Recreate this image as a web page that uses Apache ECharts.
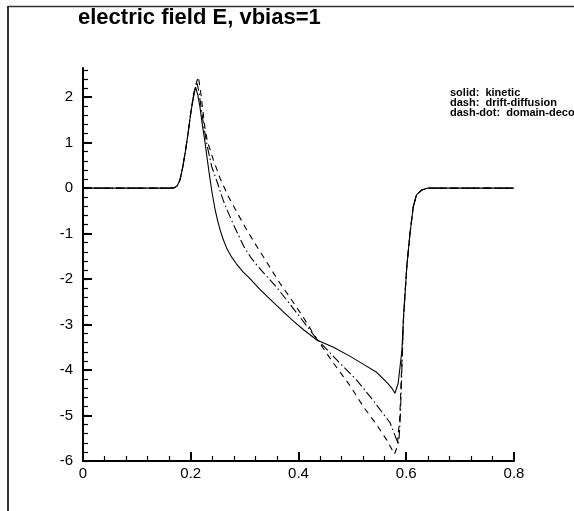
<!DOCTYPE html>
<html>
<head>
<meta charset="utf-8">
<script src="https://cdn.jsdelivr.net/npm/echarts@6/dist/echarts.min.js"></script>
<style>
html,body{margin:0;padding:0;background:#fff;}
#chart{width:574px;height:511px;}
</style>
</head>
<body>
<div id="chart"></div>
<script>
// ---- data ----
const titleText = 'electric field E, vbias=1';
const legendLines = ['solid:  kinetic', 'dash:  drift-diffusion', 'dash-dot:  domain-decomposition'];

const xTicks = [0, 0.2, 0.4, 0.6, 0.8];
const yTicks = [-6, -5, -4, -3, -2, -1, 0, 1, 2];
const yMinorTicks = [-6,-5.8,-5.6,-5.4,-5.2,-5,-4.8,-4.6,-4.4,-4.2,-4,-3.8,-3.6,-3.4,-3.2,-3,-2.8,-2.6,-2.4,-2.2,-2,-1.8,-1.6,-1.4,-1.2,-1,-0.8,-0.6,-0.4,-0.2,0,0.2,0.4,0.6,0.8,1,1.2,1.4,1.6,1.8,2,2.2,2.4,2.6];

const kineticX = [0, 0.16, 0.17, 0.175, 0.18, 0.185, 0.19, 0.195, 0.2, 0.205, 0.209, 0.213, 0.217, 0.222, 0.226, 0.231, 0.236, 0.24, 0.245, 0.25, 0.255, 0.26, 0.267, 0.275, 0.285, 0.297, 0.31, 0.328, 0.347, 0.37, 0.39, 0.41, 0.434, 0.465, 0.496, 0.52, 0.545, 0.564, 0.574, 0.579, 0.585, 0.592, 0.595, 0.601, 0.607, 0.613, 0.619, 0.629, 0.64, 0.8];
const kineticY = [0, 0, 0.01, 0.05, 0.18, 0.45, 0.8, 1.2, 1.65, 2.0, 2.22, 2.05, 1.79, 1.35, 1.05, 0.6, 0.18, -0.13, -0.46, -0.72, -0.94, -1.12, -1.33, -1.5, -1.67, -1.84, -1.99, -2.22, -2.44, -2.7, -2.92, -3.12, -3.34, -3.5, -3.7, -3.87, -4.05, -4.27, -4.41, -4.51, -4.29, -3.56, -2.83, -1.73, -0.99, -0.41, -0.15, -0.04, 0, 0];

const driftX = [0, 0.16, 0.17, 0.175, 0.18, 0.185, 0.19, 0.195, 0.2, 0.205, 0.21, 0.214, 0.218, 0.222, 0.226, 0.231, 0.242, 0.255, 0.27, 0.287, 0.304, 0.322, 0.341, 0.366, 0.384, 0.41, 0.434, 0.465, 0.496, 0.52, 0.545, 0.564, 0.578, 0.583, 0.588, 0.595, 0.601, 0.607, 0.613, 0.619, 0.629, 0.64, 0.8];
const driftY = [0, 0, 0.01, 0.05, 0.18, 0.45, 0.8, 1.2, 1.65, 2.05, 2.3, 2.45, 2.15, 1.75, 1.35, 1.02, 0.62, 0.2, -0.19, -0.56, -0.92, -1.27, -1.63, -2.1, -2.4, -2.86, -3.32, -3.85, -4.35, -4.8, -5.2, -5.54, -5.85, -5.7, -5.03, -2.83, -1.73, -0.99, -0.41, -0.15, -0.04, 0, 0];

const domainX = [0, 0.16, 0.17, 0.175, 0.18, 0.185, 0.19, 0.195, 0.2, 0.205, 0.209, 0.212, 0.216, 0.22, 0.225, 0.231, 0.239, 0.25, 0.26, 0.27, 0.28, 0.29, 0.298, 0.31, 0.325, 0.341, 0.36, 0.378, 0.403, 0.434, 0.477, 0.508, 0.538, 0.57, 0.585, 0.587, 0.589, 0.595, 0.601, 0.607, 0.613, 0.619, 0.629, 0.64, 0.8];
const domainY = [0, 0, 0.01, 0.05, 0.18, 0.45, 0.8, 1.2, 1.65, 2.02, 2.25, 2.3, 2.05, 1.7, 1.3, 0.9, 0.47, 0.1, -0.26, -0.55, -0.82, -1.07, -1.27, -1.5, -1.73, -1.94, -2.19, -2.46, -2.84, -3.32, -3.85, -4.22, -4.66, -5.16, -5.62, -5.45, -5.03, -2.83, -1.73, -0.99, -0.41, -0.15, -0.04, 0, 0];

function pairs(xs, ys){ return xs.map((x,i)=>[x, ys[i]]); }

const chart = echarts.init(document.getElementById('chart'), null, {renderer:'canvas'});
const FONT = '"Liberation Sans", Arial, sans-serif';
const GRID = {left:83, right:60, top:68, bottom:50};

chart.setOption({
  animation:false,
  backgroundColor:'#fff',
  grid: GRID,
  xAxis: {
    type:'value', min:0, max:0.8, interval:0.2,
    axisLine:{show:true, onZero:false, lineStyle:{color:'#000', width:2}},
    axisTick:{show:true, inside:true, length:9, lineStyle:{color:'#000', width:2}},
    minorTick:{show:true, splitNumber:5, length:5, lineStyle:{color:'#000', width:1.2}},
    splitLine:{show:false},
    axisLabel:{color:'#000', fontFamily:FONT, fontSize:15, margin:5,
      customValues: xTicks, formatter: v => String(v)}
  },
  yAxis: [{
    type:'value', min:-6, max:2.64,
    axisLine:{show:true, onZero:false, lineStyle:{color:'#000', width:2}},
    axisTick:{show:true, inside:true, length:9, lineStyle:{color:'#000', width:2}, customValues: yTicks},
    splitLine:{show:false},
    axisLabel:{color:'#000', fontFamily:FONT, fontSize:15, margin:10, customValues: yTicks, formatter: v => String(v)}
  },{
    type:'value', min:-6, max:2.64, position:'left',
    axisLine:{show:false},
    axisTick:{show:true, inside:true, length:5, lineStyle:{color:'#000', width:1.2}, customValues: yMinorTicks},
    axisLabel:{show:false},
    splitLine:{show:false}
  }],
  graphic: [
    {type:'line', shape:{x1:8, y1:6.5, x2:574, y2:6.5}, style:{stroke:'#333', lineWidth:1.5}, silent:true},
    {type:'line', shape:{x1:8, y1:6, x2:8, y2:511}, style:{stroke:'#333', lineWidth:2}, silent:true},
    {type:'text', left:78, top:7, style:{text:titleText, font:'bold 22px ' + FONT, fill:'#000'}},
    {type:'text', left:450, top:87, style:{text:legendLines[0], font:'bold 11px ' + FONT, fill:'#000'}},
    {type:'text', left:450, top:97, style:{text:legendLines[1], font:'bold 11px ' + FONT, fill:'#000'}},
    {type:'text', left:450, top:107, style:{text:legendLines[2], font:'bold 11px ' + FONT, fill:'#000'}}
  ],
  series: [
    {type:'line', name:'kinetic', data:pairs(kineticX, kineticY), showSymbol:false, symbol:'none',
     lineStyle:{color:'#000', width:1.1, type:'solid'}},
    {type:'line', name:'drift-diffusion', data:pairs(driftX, driftY), showSymbol:false, symbol:'none',
     lineStyle:{color:'#000', width:1.1, type:[6,5]}},
    {type:'line', name:'domain-decomposition', data:pairs(domainX, domainY), showSymbol:false, symbol:'none',
     lineStyle:{color:'#000', width:1.1, type:[9,3,1.5,3]}}
  ]
});
</script>
</body>
</html>
